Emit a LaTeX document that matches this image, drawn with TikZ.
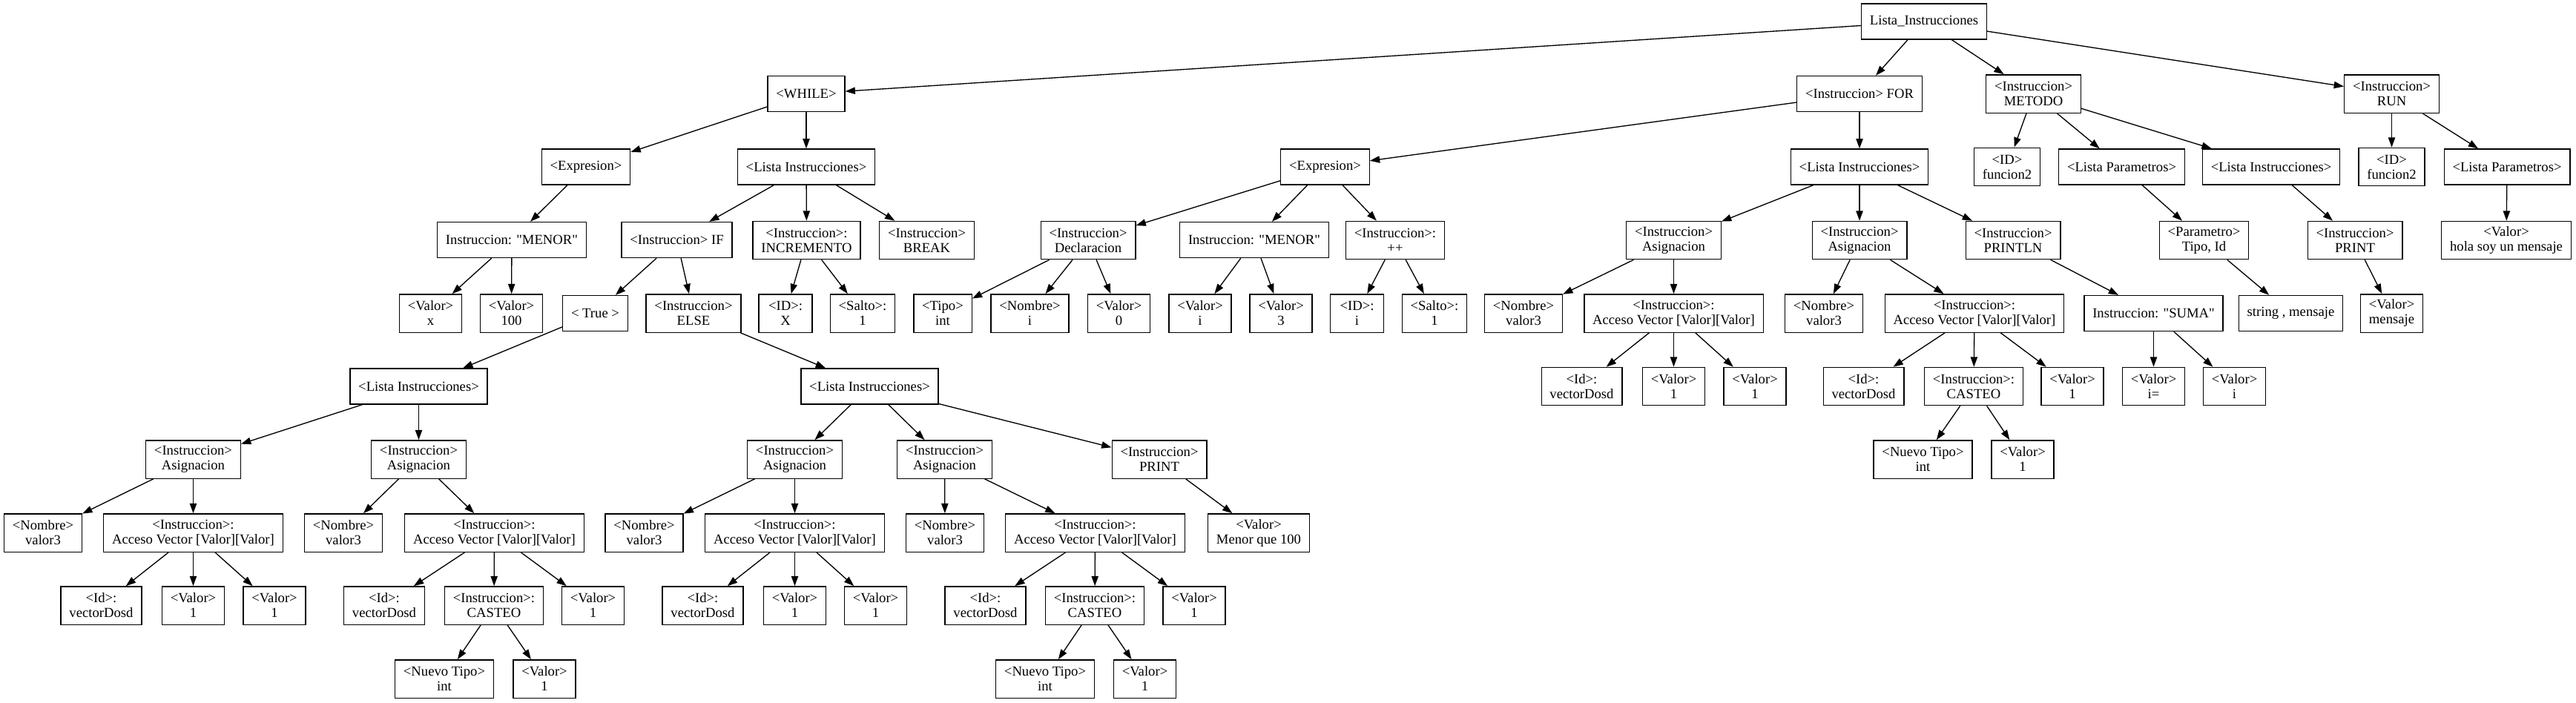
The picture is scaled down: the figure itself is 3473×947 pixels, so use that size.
\documentclass[tikz,border=0pt]{standalone}
\usepackage{fontspec}
\setmainfont{Liberation Serif}[Ligatures=TeXOff]
\usetikzlibrary{arrows.meta}

\begin{document}
\begin{tikzpicture}[x=0.75pt,y=-0.75pt,line width=1pt,>={Triangle[length=10pt,width=7pt]},
	every node/.style={draw=black,rectangle,align=center,inner xsep=8.5pt,inner ysep=3pt,minimum width=54pt,minimum height=36pt,font=\fontsize{14pt}{15pt}\selectfont},
	twoline/.style={minimum height=38.5pt}]

			\useasboundingbox (0,0) rectangle (3473,947);

			%root
			\node (n0) at (2594,29) {Lista\_Instrucciones};

			%while nodes
			\node (w1) at (1087,126.5) {<WHILE>};
			\node (w2) at (790,225) {<Expresion>};
			\node (w3) at (1087,225) {<Lista Instrucciones>};
			\node (w4) at (690,323.5) {Instruccion: "MENOR"};
			\node (w5) at (912.5,323.5) {<Instruccion> IF};
			\node [twoline] (w6) at (1087.5,324) {<Instruccion>:\\INCREMENTO};
			\node [twoline] (w7) at (1249.5,324) {<Instruccion>\\BREAK};
			\node [twoline] (w8) at (580.5,422.5) {<Valor>\\x};
			\node [twoline] (w9) at (689.5,422.5) {<Valor>\\100};
			\node (w10) at (802.5,422.5) {< True >};
			\node [twoline] (w11) at (935,422.5) {<Instruccion>\\ELSE};
			\node [twoline] (w12) at (1059,422.5) {<ID>:\\X};
			\node [twoline] (w13) at (1163,422.5) {<Salto>:\\1};
			\node (w14) at (564.5,521) {<Lista Instrucciones>};
			\node (w15) at (1172.5,521) {<Lista Instrucciones>};
			\node [twoline] (w16) at (260.5,619.5) {<Instruccion>\\Asignacion};
			\node [twoline] (w17) at (564.5,619.5) {<Instruccion>\\Asignacion};
			\node [twoline] (w18) at (1071.5,619.5) {<Instruccion>\\Asignacion};
			\node [twoline] (w19) at (1273.5,619.5) {<Instruccion>\\Asignacion};
			\node [twoline] (w20) at (1563,619.5) {<Instruccion>\\PRINT};
			\node [twoline] (w21) at (58,718.5) {<Nombre>\\valor3};
			\node [twoline] (w22) at (260.5,718.5) {<Instruccion>:\\Acceso Vector [Valor][Valor]};
			\node [twoline] (w23) at (463,718.5) {<Nombre>\\valor3};
			\node [twoline] (w24) at (666.5,718.5) {<Instruccion>:\\Acceso Vector [Valor][Valor]};
			\node [twoline] (w25) at (868.5,718.5) {<Nombre>\\valor3};
			\node [twoline] (w26) at (1071.5,718.5) {<Instruccion>:\\Acceso Vector [Valor][Valor]};
			\node [twoline] (w27) at (1274,718.5) {<Nombre>\\valor3};
			\node [twoline] (w28) at (1476.5,718.5) {<Instruccion>:\\Acceso Vector [Valor][Valor]};
			\node [twoline] (w29) at (1697,718.5) {<Valor>\\Menor que 100};
			\node [twoline] (w30) at (136.5,816.5) {<Id>:\\vectorDosd};
			\node [twoline] (w31) at (260.5,816.5) {<Valor>\\1};
			\node [twoline] (w32) at (370,816.5) {<Valor>\\1};
			\node [twoline] (w33) at (518,816.5) {<Id>:\\vectorDosd};
			\node [twoline] (w34) at (666,816.5) {<Instruccion>:\\CASTEO};
			\node [twoline] (w35) at (799.5,816.5) {<Valor>\\1};
			\node [twoline] (w36) at (947.5,816.5) {<Id>:\\vectorDosd};
			\node [twoline] (w37) at (1071.5,816.5) {<Valor>\\1};
			\node [twoline] (w38) at (1180.5,816.5) {<Valor>\\1};
			\node [twoline] (w39) at (1328.5,816.5) {<Id>:\\vectorDosd};
			\node [twoline] (w40) at (1476,816.5) {<Instruccion>:\\CASTEO};
			\node [twoline] (w41) at (1610,816.5) {<Valor>\\1};
			\node [twoline] (w42) at (599,915.5) {<Nuevo Tipo>\\int};
			\node [twoline] (w43) at (734,915.5) {<Valor>\\1};
			\node [twoline] (w44) at (1409,915.5) {<Nuevo Tipo>\\int};
			\node [twoline] (w45) at (1543.5,915.5) {<Valor>\\1};

			%for nodes
			\node (f1) at (2507,126.5) {<Instruccion> FOR};
			\node (f2) at (1786.5,225) {<Expresion>};
			\node (f3) at (2507,225) {<Lista Instrucciones>};
			\node [twoline] (f4) at (1467,324) {<Instruccion>\\Declaracion};
			\node (f5) at (1691,323.5) {Instruccion: "MENOR"};
			\node [twoline] (f6) at (1881,324) {<Instruccion>:\\++};
			\node [twoline] (f7) at (2256.5,324) {<Instruccion>\\Asignacion};
			\node [twoline] (f8) at (2507,324) {<Instruccion>\\Asignacion};
			\node [twoline] (f9) at (2714,324) {<Instruccion>\\PRINTLN};
			\node [twoline] (f10) at (1271,422.5) {<Tipo>\\int};
			\node [twoline] (f11) at (1388.5,422.5) {<Nombre>\\i};
			\node [twoline] (f12) at (1508.5,422.5) {<Valor>\\0};
			\node [twoline] (f13) at (1618,422.5) {<Valor>\\i};
			\node [twoline] (f14) at (1727,422.5) {<Valor>\\3};
			\node [twoline] (f15) at (1829.5,422.5) {<ID>:\\i};
			\node [twoline] (f16) at (1934,422.5) {<Salto>:\\1};
			\node [twoline] (f17) at (2054,422.5) {<Nombre>\\valor3};
			\node [twoline] (f18) at (2256.5,422.5) {<Instruccion>:\\Acceso Vector [Valor][Valor]};
			\node [twoline] (f19) at (2459,422.5) {<Nombre>\\valor3};
			\node [twoline] (f20) at (2662,422.5) {<Instruccion>:\\Acceso Vector [Valor][Valor]};
			\node (f21) at (2903.5,422.5) {Instruccion: "SUMA"};
			\node [twoline] (f22) at (2132.5,521) {<Id>:\\vectorDosd};
			\node [twoline] (f23) at (2256.5,521) {<Valor>\\1};
			\node [twoline] (f24) at (2366,521) {<Valor>\\1};
			\node [twoline] (f25) at (2512.5,521) {<Id>:\\vectorDosd};
			\node [twoline] (f26) at (2661,521) {<Instruccion>:\\CASTEO};
			\node [twoline] (f27) at (2794,521) {<Valor>\\1};
			\node [twoline] (f28) at (2903.5,521) {<Valor>\\i=};
			\node [twoline] (f29) at (3012.5,521) {<Valor>\\i};
			\node [twoline] (f30) at (2592.5,619.5) {<Nuevo Tipo>\\int};
			\node [twoline] (f31) at (2727,619.5) {<Valor>\\1};

			%metodo nodes
			\node [twoline] (m1) at (2741.5,126.5) {<Instruccion>\\METODO};
			\node [twoline] (m2) at (2706,225) {<ID>\\funcion2};
			\node (m3) at (2860.5,225) {<Lista Parametros>};
			\node (m4) at (3062,225) {<Lista Instrucciones>};
			\node [twoline] (m5) at (2971.5,324) {<Parametro>\\Tipo, Id};
			\node [twoline] (m6) at (3175,324) {<Instruccion>\\PRINT};
			\node (m7) at (3088.5,422.5) {string , mensaje};
			\node [twoline] (m8) at (3224.5,422.5) {<Valor>\\mensaje};

			%run nodes
			\node [twoline] (r1) at (3224.5,126.5) {<Instruccion>\\RUN};
			\node [twoline] (r2) at (3224.5,225) {<ID>\\funcion2};
			\node (r3) at (3380,225) {<Lista Parametros>};
			\node [twoline] (r4) at (3379,324) {<Valor>\\hola soy un mensaje};

			%edges
			\draw[->] (n0) -- (w1);
			\draw[->] (n0) -- (f1);
			\draw[->] (n0) -- (m1);
			\draw[->] (n0) -- (r1);

			\draw[->] (w1) -- (w2);
			\draw[->] (w1) -- (w3);
			\draw[->] (w2) -- (w4);
			\draw[->] (w4) -- (w8);
			\draw[->] (w4) -- (w9);
			\draw[->] (w3) -- (w5);
			\draw[->] (w3) -- (w6);
			\draw[->] (w3) -- (w7);
			\draw[->] (w5) -- (w10);
			\draw[->] (w5) -- (w11);
			\draw[->] (w6) -- (w12);
			\draw[->] (w6) -- (w13);
			\draw[->] (w10) -- (w14);
			\draw[->] (w11) -- (w15);
			\draw[->] (w14) -- (w16);
			\draw[->] (w14) -- (w17);
			\draw[->] (w15) -- (w18);
			\draw[->] (w15) -- (w19);
			\draw[->] (w15) -- (w20);
			\draw[->] (w16) -- (w21);
			\draw[->] (w16) -- (w22);
			\draw[->] (w17) -- (w23);
			\draw[->] (w17) -- (w24);
			\draw[->] (w18) -- (w25);
			\draw[->] (w18) -- (w26);
			\draw[->] (w19) -- (w27);
			\draw[->] (w19) -- (w28);
			\draw[->] (w20) -- (w29);
			\draw[->] (w22) -- (w30);
			\draw[->] (w22) -- (w31);
			\draw[->] (w22) -- (w32);
			\draw[->] (w24) -- (w33);
			\draw[->] (w24) -- (w34);
			\draw[->] (w24) -- (w35);
			\draw[->] (w26) -- (w36);
			\draw[->] (w26) -- (w37);
			\draw[->] (w26) -- (w38);
			\draw[->] (w28) -- (w39);
			\draw[->] (w28) -- (w40);
			\draw[->] (w28) -- (w41);
			\draw[->] (w34) -- (w42);
			\draw[->] (w34) -- (w43);
			\draw[->] (w40) -- (w44);
			\draw[->] (w40) -- (w45);

			\draw[->] (f1) -- (f2);
			\draw[->] (f1) -- (f3);
			\draw[->] (f2) -- (f4);
			\draw[->] (f2) -- (f5);
			\draw[->] (f2) -- (f6);
			\draw[->] (f3) -- (f7);
			\draw[->] (f3) -- (f8);
			\draw[->] (f3) -- (f9);
			\draw[->] (f4) -- (f10);
			\draw[->] (f4) -- (f11);
			\draw[->] (f4) -- (f12);
			\draw[->] (f5) -- (f13);
			\draw[->] (f5) -- (f14);
			\draw[->] (f6) -- (f15);
			\draw[->] (f6) -- (f16);
			\draw[->] (f7) -- (f17);
			\draw[->] (f7) -- (f18);
			\draw[->] (f8) -- (f19);
			\draw[->] (f8) -- (f20);
			\draw[->] (f9) -- (f21);
			\draw[->] (f18) -- (f22);
			\draw[->] (f18) -- (f23);
			\draw[->] (f18) -- (f24);
			\draw[->] (f20) -- (f25);
			\draw[->] (f20) -- (f26);
			\draw[->] (f20) -- (f27);
			\draw[->] (f21) -- (f28);
			\draw[->] (f21) -- (f29);
			\draw[->] (f26) -- (f30);
			\draw[->] (f26) -- (f31);

			\draw[->] (m1) -- (m2);
			\draw[->] (m1) -- (m3);
			\draw[->] (m1) -- (m4);
			\draw[->] (m3) -- (m5);
			\draw[->] (m4) -- (m6);
			\draw[->] (m5) -- (m7);
			\draw[->] (m6) -- (m8);

			\draw[->] (r1) -- (r2);
			\draw[->] (r1) -- (r3);
			\draw[->] (r3) -- (r4);
		\end{tikzpicture}
\end{document}
